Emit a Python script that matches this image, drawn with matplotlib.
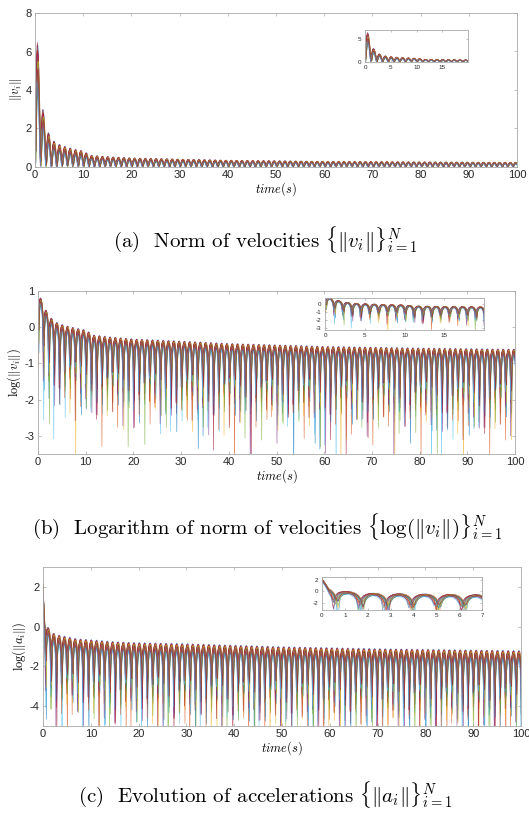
import numpy as np
import matplotlib.pyplot as plt

plt.rcParams['mathtext.fontset'] = 'cm'
plt.rcParams['font.family'] = 'Liberation Sans'
plt.rcParams['axes.unicode_minus'] = False

# peak envelope of ||v_i||
v_knot_t = [0, 0.4, 1.2, 2.2, 3.3, 4.5, 6, 8, 10, 11.5, 15, 20, 30, 40, 60, 80, 100]
v_peak = [7.6, 7.2, 3.8, 2.2, 1.5, 1.25, 1.1, 0.95, 0.85, 0.62, 0.55, 0.48, 0.42, 0.36, 0.3, 0.27, 0.25]
v_period = 1.1137
v_first_dip = 0.0713

# peak envelope of log(||a_i||)
a_knot_t = [0, 0.3, 1, 2, 3, 5, 7, 10, 15, 20, 30, 50, 70, 100]
a_peak_log = [2.2, 0.6, 0.0, -0.3, -0.4, -0.5, -0.6, -0.65, -0.75, -0.8, -0.85, -1.0, -1.1, -1.2]
a_period = 1.1183
a_first_dip = 0.5837

# per-agent amplitude and timing offsets
agent_gain = [1.00, 0.96, 0.92, 0.98, 0.88, 0.84, 0.94, 0.80, 0.90, 0.76, 0.86,
              0.72, 0.82, 0.97, 0.68, 0.78, 0.93, 0.74, 0.89, 0.65, 0.85]
agent_shift = [0.0031, 0.0427, -0.0519, 0.0893, -0.1046, 0.0614, -0.0238, 0.1172, -0.0781,
               0.0329, -0.1193, 0.1018, 0.0147, -0.0662, 0.0709, -0.0353, 0.1106, -0.0887,
               0.0542, -0.1121, 0.0806]

colors = ['#0072BD', '#D95319', '#EDB120', '#7E2F8E', '#77AC30', '#4DBEEE', '#A2142F']

t = np.arange(0, 100.001, 0.1)
v_env = np.interp(t, v_knot_t, v_peak)
a_env = np.interp(t, a_knot_t, a_peak_log)

vs, las = [], []
for g, s in zip(agent_gain, agent_shift):
    v = g * v_env * np.abs(np.sin(np.pi * (t - v_first_dip - s) / v_period))
    vs.append(np.clip(v, 1e-4, None))
    sa = np.abs(np.sin(np.pi * (t - a_first_dip - s) / a_period))
    las.append(a_env + 2.5 * np.log10(g) + 1.8 * np.log10(np.clip(sa, 1e-6, None)))


def style(ax, fs, tl=2.5):
    for sp in ax.spines.values():
        sp.set_color('#a8a8a8')
        sp.set_linewidth(0.6)
    ax.tick_params(direction='in', top=True, right=True, length=tl, width=0.5,
                   color='#a8a8a8', labelcolor='#262626', labelsize=fs, pad=2.5)


def draw(ax, x, ys, lw=0.45):
    for i, y in enumerate(ys):
        ax.plot(x, y, color=colors[i % 7], lw=lw, alpha=0.75)


W, H = 529, 813
fig = plt.figure(figsize=(W / 100, H / 100), dpi=100)


def box(l, r, top, bot):
    return [l / W, 1 - bot / H, (r - l) / W, (bot - top) / H]


# (a)
ax1 = fig.add_axes(box(35, 517, 13, 167))
draw(ax1, t, vs)
ax1.set_xlim(0, 100)
ax1.set_ylim(0, 8)
ax1.set_xticks(range(0, 101, 10))
ax1.set_yticks([0, 2, 4, 6, 8])
style(ax1, 8)
ax1.set_ylabel(r'$\|v_i\|$', fontsize=9, labelpad=1)
ax1.set_xlabel(r'$time(s)$', fontsize=9, labelpad=0)

in1 = fig.add_axes(box(365, 468, 30, 62))
m = t <= 20
draw(in1, t[m], [v[m] for v in vs], lw=0.4)
in1.set_xlim(0, 20)
in1.set_ylim(0, 7)
in1.set_xticks([0, 5, 10, 15])
in1.set_yticks([0, 5])
style(in1, 4.5, tl=1.5)

# (b)
ax2 = fig.add_axes(box(38, 515, 291, 454))
draw(ax2, t, [np.log10(v) for v in vs])
ax2.set_xlim(0, 100)
ax2.set_ylim(-3.5, 1)
ax2.set_xticks(range(0, 101, 10))
ax2.set_yticks([-3, -2, -1, 0, 1])
style(ax2, 8)
ax2.set_ylabel(r'$\log(\|v_i\|)$', fontsize=9, labelpad=1)
ax2.set_xlabel(r'$time(s)$', fontsize=9, labelpad=0)

in2 = fig.add_axes(box(325, 484, 298, 330))
draw(in2, t[m], [np.log10(v[m]) for v in vs], lw=0.4)
in2.set_xlim(0, 20)
in2.set_ylim(-3.3, 0.8)
in2.set_xticks([0, 5, 10, 15])
in2.set_yticks([-3, -2, -1, 0])
style(in2, 4.5, tl=1.5)

# (c)
ax3 = fig.add_axes(box(43, 521, 567, 726))
draw(ax3, t, las)
ax3.set_xlim(0, 100)
ax3.set_ylim(-5, 3)
ax3.set_xticks(range(0, 101, 10))
ax3.set_yticks([-4, -2, 0, 2])
style(ax3, 8)
ax3.set_ylabel(r'$\log(\|a_i\|)$', fontsize=9, labelpad=1)
ax3.set_xlabel(r'$time(s)$', fontsize=9, labelpad=0)

in3 = fig.add_axes(box(322, 482, 577, 610))
ma = t <= 7
draw(in3, t[ma], [la[ma] for la in las], lw=0.4)
in3.set_xlim(0, 7)
in3.set_ylim(-3.3, 2.5)
in3.set_xticks(range(0, 8))
in3.set_yticks([-2, 0, 2])
style(in3, 4.5, tl=1.5)

cap = dict(ha='center', va='center', fontsize=15, family='cmr10')
fig.text(265 / W, 1 - 240 / H, r'(a)  Norm of velocities $\{\|v_i\|\}_{i=1}^N$', **cap)
fig.text(267 / W, 1 - 527 / H,
         r'(b)  Logarithm of norm of velocities $\{\log(\|v_i\|)\}_{i=1}^N$', **cap)
fig.text(265 / W, 1 - 795 / H, r'(c)  Evolution of accelerations $\{\|a_i\|\}_{i=1}^N$', **cap)

fig.savefig('out.png', dpi=100)
